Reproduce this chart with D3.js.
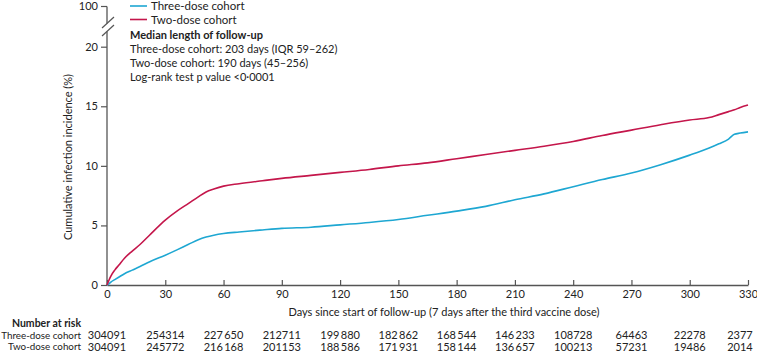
<!DOCTYPE html>
<html><head><meta charset="utf-8">
<script src="https://cdn.jsdelivr.net/npm/d3@7"></script>
<style>
body{margin:0;background:#fff;}
svg{display:block;font-family:Lato, "Open Sans", sans-serif;}
</style></head>
<body><svg id="c" width="757" height="355"></svg>
<script>
const days = [0,1,2,4,6,9,13,17,22,30,36,42,47,51,55,60,68,80,90,105,120,135,150,165,180,195,210,225,240,255,270,285,300,310,315,320,323,326,330];
const threeDose = [0,0.1,0.25,0.45,0.65,0.95,1.25,1.55,1.95,2.5,2.95,3.42,3.8,4.02,4.18,4.32,4.45,4.62,4.75,4.85,5.05,5.25,5.5,5.85,6.2,6.6,7.15,7.65,8.25,8.85,9.4,10.1,10.9,11.5,11.85,12.25,12.65,12.75,12.85];
const twoDose = [0,0.4,0.75,1.25,1.65,2.25,2.85,3.4,4.2,5.45,6.2,6.85,7.4,7.8,8.05,8.3,8.5,8.75,8.95,9.2,9.45,9.7,10.0,10.25,10.6,10.95,11.3,11.65,12.05,12.55,13.0,13.45,13.85,14.05,14.3,14.55,14.7,14.9,15.1];
const xTicks = [0,30,60,90,120,150,180,210,240,270,300,330];
const yTicks = [0,5,10,15,20];
const riskThree = ["304091","254314","227\u2009650","212711","199\u2009880","182\u2009862","168\u2009544","146\u2009233","108728","64463","22278","2377"];
const riskTwo = ["304091","245772","216\u2009168","201153","188\u2009586","171\u2009931","158\u2009144","136\u2009657","100213","57231","19486","2014"];
const seriesNames = ["Three-dose cohort","Two-dose cohort"];
const colors = ["#1ea7d2","#c4164b"];
const infoLines = ["Three-dose cohort: 203 days (IQR 59\u2013262)","Two-dose cohort: 190 days (45\u2013256)","Log-rank test p value <0\u00b70001"];

const svg = d3.select("#c");
const axisCol = "#555";
const x = d3.scaleLinear().domain([0,330]).range([107,748]);
const y = d3.scaleLinear().domain([0,20]).range([285,46.7]);
const yTop = 6.5;

// x axis
const xa = svg.append("g").attr("transform","translate(0,285)")
  .call(d3.axisBottom(x).tickValues(xTicks).tickSize(5).tickSizeOuter(0));
xa.select(".domain").attr("stroke",axisCol).attr("stroke-width",1.3);
xa.selectAll(".tick line").attr("stroke",axisCol).attr("stroke-width",1.2).attr("y1",-5).attr("y2",0);
xa.selectAll(".tick text").attr("font-family","Lato").attr("font-size",11).attr("fill","#222").attr("y",5);

// y axis
const ya = svg.append("g").attr("transform","translate(107,0)")
  .call(d3.axisLeft(y).tickValues(yTicks).tickSize(6));
ya.select(".domain").remove();
ya.selectAll(".tick line").attr("stroke",axisCol).attr("stroke-width",1.2);
ya.selectAll(".tick text").attr("font-family","Lato").attr("font-size",11).attr("fill","#222").attr("x",-9);
// 100 tick
svg.append("line").attr("x1",101).attr("x2",107).attr("y1",yTop).attr("y2",yTop).attr("stroke",axisCol).attr("stroke-width",1.2);
svg.append("text").attr("x",98).attr("y",yTop).attr("dy","0.36em").attr("text-anchor","end")
  .attr("font-size",11).attr("fill","#222").text("100");
// axis line with break
svg.append("line").attr("x1",107).attr("x2",107).attr("y1",yTop).attr("y2",23.4).attr("stroke",axisCol).attr("stroke-width",1.3);
svg.append("line").attr("x1",107).attr("x2",107).attr("y1",31.4).attr("y2",285.6).attr("stroke",axisCol).attr("stroke-width",1.3);
[0,8].forEach(o=>{
  svg.append("line").attr("x1",102).attr("y1",28+o).attr("x2",114).attr("y2",17+o).attr("stroke",axisCol).attr("stroke-width",1.2);
});

// y label
svg.append("text").attr("transform","translate(72,157) rotate(-90)").attr("text-anchor","middle")
  .attr("font-size",11).attr("fill","#222").text("Cumulative infection incidence (%)");
// x label
svg.append("text").attr("x",444).attr("y",316).attr("text-anchor","middle")
  .attr("font-size",11).attr("fill","#222").text("Days since start of follow-up (7 days after the third vaccine dose)");

// lines
const line = d3.line().x(d=>x(d[0])).y(d=>y(d[1])).curve(d3.curveMonotoneX);
[threeDose,twoDose].forEach((vals,i)=>{
  svg.append("path").datum(days.map((d,j)=>[d,vals[j]]))
    .attr("d",line).attr("fill","none").attr("stroke",colors[i]).attr("stroke-width",1.6);
});

// legend
seriesNames.forEach((n,i)=>{
  const yy = 6 + i*13.5;
  svg.append("line").attr("x1",130).attr("x2",147).attr("y1",yy).attr("y2",yy).attr("stroke",colors[i]).attr("stroke-width",1.6);
  svg.append("text").attr("x",151).attr("y",yy).attr("dy","0.36em").attr("font-size",11.5).attr("fill","#222").text(n);
});
svg.append("text").attr("x",130).attr("y",35).attr("dy","0.35em").attr("font-size",11).attr("font-weight","bold").attr("fill","#222").text("Median length of follow-up");
infoLines.forEach((t,i)=>{
  svg.append("text").attr("x",130).attr("y",49+i*14.3).attr("dy","0.35em").attr("font-size",11).attr("fill","#222").text(t);
});

// number at risk
svg.append("text").attr("x",81).attr("y",323.5).attr("dy","0.35em").attr("text-anchor","end").attr("font-size",10.5).attr("font-weight","bold").attr("fill","#222").text("Number at risk");
[[seriesNames[0],riskThree,335.5],[seriesNames[1],riskTwo,347]].forEach(([n,vals,yy])=>{
  svg.append("text").attr("x",81).attr("y",yy).attr("dy","0.35em").attr("text-anchor","end").attr("font-size",9.8).attr("fill","#222").text(n);
  vals.forEach((v,j)=>{
    svg.append("text").attr("x",Math.min(x(xTicks[j]),740)).attr("y",yy).attr("dy","0.35em").attr("text-anchor","middle")
      .attr("font-size",11).attr("fill","#222").text(v);
  });
});
</script></body></html>
